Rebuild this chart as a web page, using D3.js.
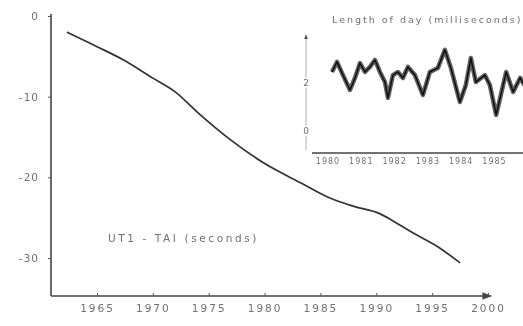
<!DOCTYPE html>
<html>
<head>
<meta charset="utf-8">
<script src="https://cdn.jsdelivr.net/npm/d3@7"></script>
<style>
  body { margin: 0; background: #fff; }
  text { font-family: "DejaVu Sans", sans-serif; fill: #707070; }
</style>
</head>
<body>
<div id="chart"></div>
<script>
// svg size
var svgWidth = 523;
var svgHeight = 326;

// main series: UT1 - TAI (seconds)
var utYears = [1962.3, 1965, 1967.3, 1970, 1972, 1974.2, 1976.9, 1979.9, 1983.4, 1985.9, 1988, 1990.3, 1991.5, 1993.3, 1995.5, 1997.5];
var utValues = [-2.0, -3.8, -5.4, -7.7, -9.4, -12.2, -15.3, -18.2, -20.8, -22.6, -23.6, -24.5, -25.4, -26.9, -28.6, -30.6];
var yearTicks = [1965, 1970, 1975, 1980, 1985, 1990, 1995, 2000];
var secTicks = [0, -10, -20, -30];

// inset series: length of day (milliseconds)
var lodYears = [1980.12, 1980.27, 1980.45, 1980.66, 1980.81, 1980.96, 1981.11, 1981.26, 1981.41, 1981.56, 1981.71, 1981.8, 1981.95, 1982.1, 1982.25, 1982.4, 1982.61, 1982.85, 1983.06, 1983.3, 1983.51, 1983.69, 1983.96, 1984.14, 1984.29, 1984.44, 1984.71, 1984.86, 1985.05, 1985.26, 1985.35, 1985.56, 1985.77, 1985.9];
var lodValues = [2.46, 2.88, 2.33, 1.71, 2.21, 2.83, 2.46, 2.67, 2.96, 2.46, 2.04, 1.38, 2.33, 2.46, 2.21, 2.67, 2.33, 1.5, 2.46, 2.63, 3.38, 2.63, 1.21, 1.92, 3.04, 2.04, 2.33, 1.92, 0.67, 1.92, 2.46, 1.63, 2.21, 1.9];
var lodYearTicks = [1980, 1981, 1982, 1983, 1984, 1985];
var lodTicks = [4, 2, 0];

var svg = d3.select("#chart")
    .append("svg")
    .attr("width", svgWidth)
    .attr("height", svgHeight);

// soft look like the scanned original
var defs = svg.append("defs");
defs.append("filter").attr("id", "soft")
    .append("feGaussianBlur").attr("stdDeviation", 0.45);
defs.append("marker")
    .attr("id", "arrow")
    .attr("viewBox", "0 0 10 10")
    .attr("refX", 9).attr("refY", 5)
    .attr("markerWidth", 6).attr("markerHeight", 6)
    .attr("orient", "auto")
    .append("path").attr("d", "M0,1 L10,5 L0,9 Z").attr("fill", "#444");

var chart = svg.append("g").attr("filter", "url(#soft)");

// scales
var xscale = d3.scaleLinear().domain([1965, 2000]).range([97, 488]);
var yscale = d3.scaleLinear().domain([0, -30]).range([16, 258]);

// axis lines
chart.append("line")
    .attr("x1", 51).attr("y1", 14).attr("x2", 51).attr("y2", 296)
    .attr("stroke", "#444").attr("stroke-width", 1.6);
chart.append("line")
    .attr("x1", 51).attr("y1", 296).attr("x2", 491).attr("y2", 296)
    .attr("stroke", "#444").attr("stroke-width", 1.6)
    .attr("marker-end", "url(#arrow)");

var bottomAxis = d3.axisBottom(xscale)
    .tickValues(yearTicks)
    .tickSizeInner(-3)
    .tickSizeOuter(0)
    .tickPadding(9)
    .tickFormat(d3.format("d"));
var gx = chart.append("g")
    .attr("transform", "translate(0, 296)")
    .call(bottomAxis);
gx.select(".domain").remove();
gx.selectAll("line").attr("stroke", "#555");
gx.selectAll("text")
    .style("font-size", "10.5px")
    .style("letter-spacing", "2px")
    .attr("fill", "#707070");

var leftAxis = d3.axisLeft(yscale)
    .tickValues(secTicks)
    .tickSizeInner(3)
    .tickSizeOuter(0)
    .tickPadding(9)
    .tickFormat(d => d);
var gy = chart.append("g")
    .attr("transform", "translate(51, 0)")
    .call(leftAxis);
gy.select(".domain").remove();
gy.selectAll("line").attr("stroke", "#555");
gy.selectAll("text")
    .style("font-size", "10.5px")
    .style("letter-spacing", "1px")
    .attr("fill", "#707070");

// main curve
var utData = utYears.map((y, i) => ({ year: y, value: utValues[i] }));
var line = d3.line()
    .x(d => xscale(d.year))
    .y(d => yscale(d.value))
    .curve(d3.curveMonotoneX);
chart.append("path")
    .datum(utData)
    .attr("d", line)
    .attr("fill", "none")
    .attr("stroke", "#333")
    .attr("stroke-width", 1.7);

chart.append("text")
    .attr("x", 108)
    .attr("y", 242)
    .style("font-size", "10.5px")
    .style("letter-spacing", "2.6px")
    .text("UT1 - TAI (seconds)");

// inset: length of day
var xi = d3.scaleLinear().domain([1980, 1985]).range([328, 494.5]);
var yi = d3.scaleLinear().domain([0, 4]).range([131, 35]);

chart.append("text")
    .attr("x", 332)
    .attr("y", 23)
    .style("font-size", "9.5px")
    .style("letter-spacing", "2px")
    .text("Length of day (milliseconds)");

chart.append("line")
    .attr("x1", 306).attr("y1", 150).attr("x2", 306).attr("y2", 35)
    .attr("stroke", "#999").attr("stroke-width", 0.8)
    .attr("marker-end", "url(#arrow)");
chart.append("line")
    .attr("x1", 312).attr("y1", 153).attr("x2", 523).attr("y2", 153)
    .attr("stroke", "#444").attr("stroke-width", 1.5);

chart.selectAll(".lodtick")
    .data(lodTicks.filter(d => d !== 4))
    .enter()
    .append("text")
    .attr("class", "lodtick")
    .attr("x", 306)
    .attr("y", d => yi(d) + 3)
    .style("font-size", "9px")
    .style("text-anchor", "middle")
    .style("paint-order", "stroke")
    .style("stroke", "#fff")
    .style("stroke-width", "3px")
    .text(d => d);

chart.selectAll(".lodyear")
    .data(lodYearTicks)
    .enter()
    .append("text")
    .attr("class", "lodyear")
    .attr("x", d => xi(d))
    .attr("y", 164)
    .style("font-size", "8px")
    .style("letter-spacing", "1px")
    .style("text-anchor", "middle")
    .text(d => d);

var lodData = lodYears.map((y, i) => ({ year: y, value: lodValues[i] }));
var lodLine = d3.line()
    .x(d => xi(d.year))
    .y(d => yi(d.value))
    .curve(d3.curveLinear);
chart.append("path")
    .datum(lodData)
    .attr("d", lodLine)
    .attr("fill", "none")
    .attr("stroke", "#3a3a3a")
    .attr("stroke-width", 4.5)
    .attr("stroke-linejoin", "round")
    .attr("opacity", 0.8);
chart.append("path")
    .datum(lodData)
    .attr("d", lodLine)
    .attr("fill", "none")
    .attr("stroke", "#111")
    .attr("stroke-width", 1.5)
    .attr("stroke-linejoin", "round");
</script>
</body>
</html>
